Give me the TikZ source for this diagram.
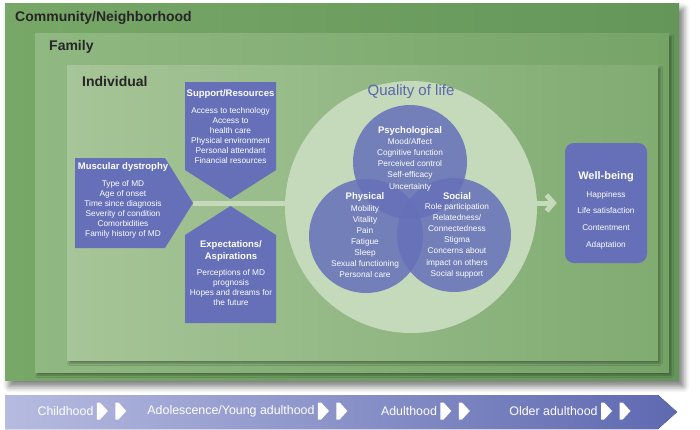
\documentclass[tikz,border=0pt]{standalone}
\usepackage{fontspec}
\setmainfont{Liberation Sans}
\usetikzlibrary{positioning,shapes.symbols,shadows.blur,arrows.meta}

\definecolor{mdblue}{HTML}{6570B8}
\definecolor{qolgreen}{HTML}{C5D9BB}
\definecolor{qoltitle}{HTML}{5B67AE}
\definecolor{commL}{HTML}{78A868}
\definecolor{commR}{HTML}{64965A}
\definecolor{famL}{HTML}{90B882}
\definecolor{famR}{HTML}{76A467}
\definecolor{indL}{HTML}{A6C598}
\definecolor{indR}{HTML}{80AB71}
\definecolor{stageL}{HTML}{B6BBE0}
\definecolor{stageR}{HTML}{5E69B1}

\tikzset{
  layer/.style={anchor=north west, inner sep=0,
    blur shadow={shadow xshift=2pt, shadow yshift=-3pt, shadow opacity=35}},
  layer label/.style={anchor=west, inner sep=0, text=black!85,
    font=\bfseries\fontsize{14}{16}\selectfont},
  block/.style={fill=mdblue},
  title/.style={text=white, inner sep=0, align=center,
    font=\bfseries\fontsize{9.5}{12}\selectfont},
  items/.style={text=white, inner sep=0, align=center,
    font=\fontsize{8.3}{10}\selectfont},
  venn/.style={circle, fill=mdblue, fill opacity=0.85, inner sep=0, minimum size=114pt},
  flow/.style={draw=qolgreen, line width=5pt},
  stage/.style={text=white, inner sep=0, font=\fontsize{12.4}{14}\selectfont},
  chevron/.style={signal, signal to=east, signal pointer angle=95, fill=white,
    inner sep=0, minimum width=11pt, minimum height=17pt},
}

\begin{document}
\begin{tikzpicture}[x=1pt, y=-1pt]
  \useasboundingbox (0,0) rectangle (700,429);

  \node [layer, left color=commL, right color=commR,
         blur shadow={shadow xshift=4pt, shadow yshift=-6pt, shadow blur radius=6pt, shadow opacity=30},
         minimum width=674pt, minimum height=377pt] (community) at (5,3) {};
  \node [layer, left color=famL, right color=famR,
         minimum width=634pt, minimum height=339pt] (family) at (35,33) {};
  \node [layer, left color=indL, right color=indR,
         minimum width=591pt, minimum height=295pt] (individual) at (67,65) {};

  \node [layer label] (community label) at (15,18) {Community/Neighborhood};
  \node [layer label] (family label) at (49,47) {Family};
  \node [layer label] (individual label) at (82,81) {Individual};

  \node [rounded corners=9pt, fill=mdblue, minimum width=82pt, minimum height=120pt]
        (wellbeing) at (606,203) {};
  \coordinate (md tip) at (193,203);
  \draw [flow, -{Straight Barb[length=7pt,width=16pt]}, shorten >=8pt] (md tip) -- (wellbeing.west);

  \node [circle, fill=qolgreen, minimum size=252pt] (qol) at (411,207) {};
  \node [text=qoltitle, font=\fontsize{15}{17}\selectfont] (qol label) at (411,92) {Quality of life};

  \node [venn] (psych) at (410,162) {};
  \node [venn] (physical) at (366,236) {};
  \node [venn] (social) at (454,235) {};

  \node [title] (psych title) at (410,131) {Psychological};
  \node [items, font=\fontsize{8.3}{11.25}\selectfont] (psych items) at (410,164.5)
    {Mood/Affect\\Cognitive function\\Perceived control\\Self-efficacy\\Uncertainty};
  \node [title] (physical title) at (365,197) {Physical};
  \node [items, font=\fontsize{8.3}{11}\selectfont] (physical items) at (365,242)
    {Mobility\\Vitality\\Pain\\Fatigue\\Sleep\\Sexual functioning\\Personal care};
  \node [title] (social title) at (457,196) {Social};
  \node [items, font=\fontsize{8.3}{11.2}\selectfont] (social items) at (457,240.5)
    {Role participation\\Relatedness/\\Connectedness\\Stigma\\Concerns about\\impact on others\\Social support};

  \fill [block] (75,158) -- (165,158) -- (md tip) -- (165,248) -- (75,248) -- cycle;
  \fill [block] (185,82) -- (276,82) -- (276,170) -- (230.5,199) -- (185,170) -- cycle;
  \fill [block] (185,235) -- (230.5,206) -- (276,235) -- (276,323) -- (185,323) -- cycle;

  \node [title] (md title) at (123,167) {Muscular dystrophy};
  \node [items] (md items) at (123,209)
    {Type of MD\\Age of onset\\Time since diagnosis\\Severity of condition\\Comorbidities\\Family history of MD};
  \node [title] (support title) at (230.5,94) {Support/Resources};
  \node [items] (support items) at (230.5,136)
    {Access to technology\\Access to\\health care\\Physical environment\\Personal attendant\\Financial resources};
  \node [title] (expect title) at (231,251) {Expectations/\\Aspirations};
  \node [items] (expect items) at (231,288)
    {Perceptions of MD\\prognosis\\Hopes and dreams for\\the future};

  \node [title, font=\bfseries\fontsize{11}{13}\selectfont] (wellbeing title) at (606,177) {Well-being};
  \node [items, font=\fontsize{8.3}{16.7}\selectfont] (wellbeing items) at (606,220)
    {Happiness\\Life satisfaction\\Contentment\\Adaptation};

  \fill [left color=stageL, right color=stageR]
    (5,395) -- (658,395) -- (677,412) -- (658,429) -- (5,429) -- cycle;
  \node [stage] (childhood) at (65.5,411) {Childhood};
  \node [chevron, right=3pt of childhood] (childhood c1) {};
  \node [chevron, right=7pt of childhood c1] (childhood c2) {};
  \node [stage] (adolescence) at (231,411) {Adolescence/Young adulthood};
  \node [chevron, right=3pt of adolescence] (adolescence c1) {};
  \node [chevron, right=7pt of adolescence c1] (adolescence c2) {};
  \node [stage] (adulthood) at (409,411) {Adulthood};
  \node [chevron, right=3pt of adulthood] (adulthood c1) {};
  \node [chevron, right=7pt of adulthood c1] (adulthood c2) {};
  \node [stage] (older) at (553.5,411) {Older adulthood};
  \node [chevron, right=3pt of older] (older c1) {};
  \node [chevron, right=7pt of older c1] (older c2) {};
\end{tikzpicture}
\end{document}
